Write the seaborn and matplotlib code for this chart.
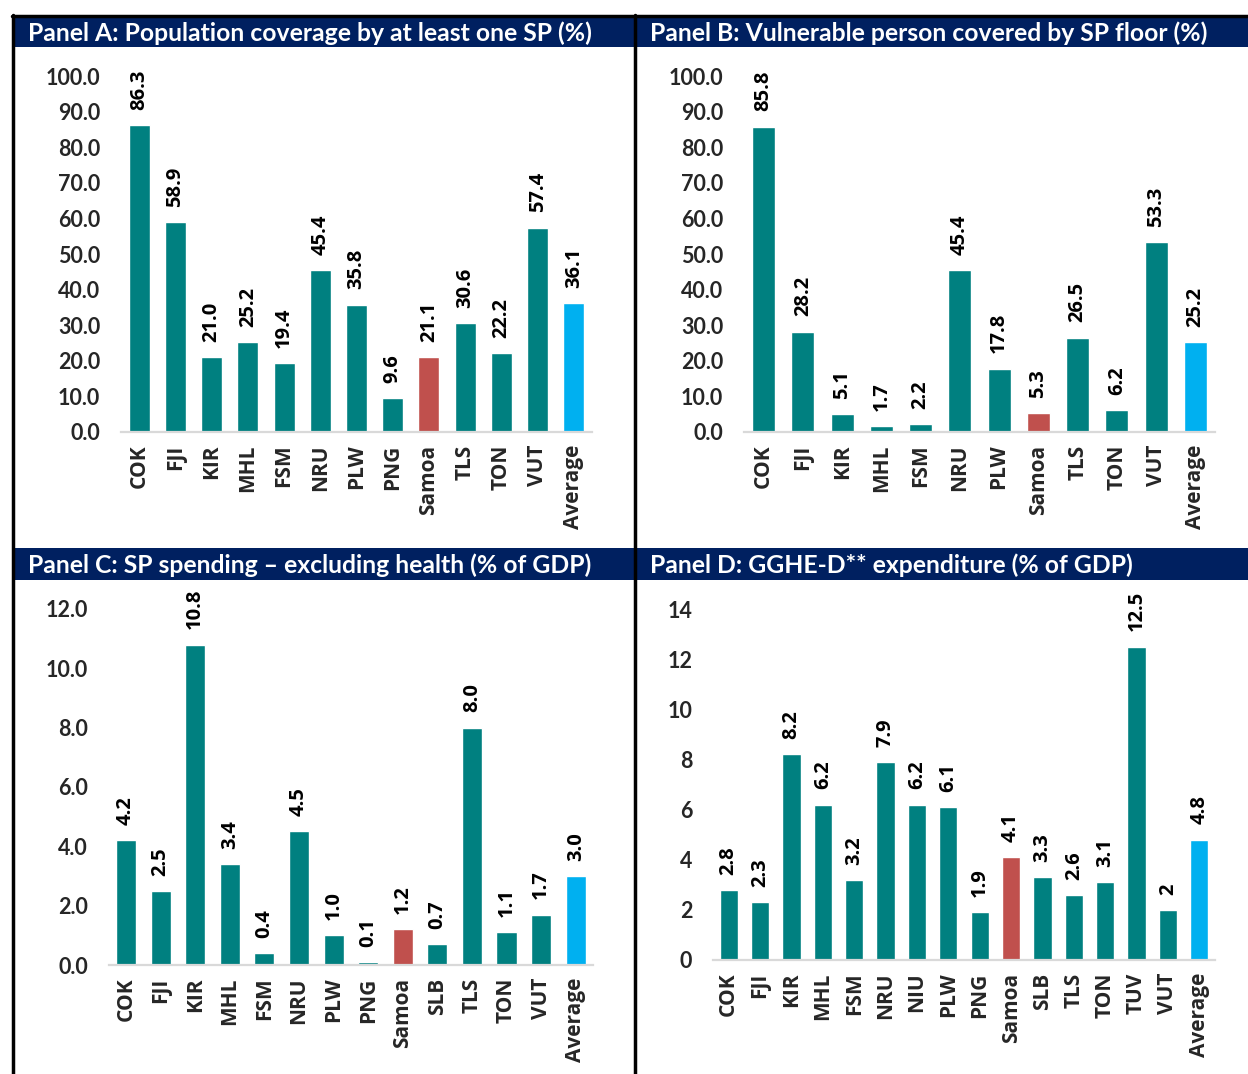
import matplotlib
matplotlib.use("Agg")
import matplotlib.pyplot as plt
from matplotlib.patches import Rectangle
from matplotlib.lines import Line2D
import pandas as pd
import seaborn as sns

# ---- data -------------------------------------------------------------
cats_a = ["COK", "FJI", "KIR", "MHL", "FSM", "NRU", "PLW", "PNG", "Samoa",
          "TLS", "TON", "VUT", "Average"]
vals_a = [86.3, 58.9, 21.0, 25.2, 19.4, 45.4, 35.8, 9.6, 21.1, 30.6, 22.2, 57.4, 36.1]

cats_b = ["COK", "FJI", "KIR", "MHL", "FSM", "NRU", "PLW", "Samoa", "TLS",
          "TON", "VUT", "Average"]
vals_b = [85.8, 28.2, 5.1, 1.7, 2.2, 45.4, 17.8, 5.3, 26.5, 6.2, 53.3, 25.2]

cats_c = ["COK", "FJI", "KIR", "MHL", "FSM", "NRU", "PLW", "PNG", "Samoa",
          "SLB", "TLS", "TON", "VUT", "Average"]
vals_c = [4.2, 2.5, 10.8, 3.4, 0.4, 4.5, 1.0, 0.1, 1.2, 0.7, 8.0, 1.1, 1.7, 3.0]

cats_d = ["COK", "FJI", "KIR", "MHL", "FSM", "NRU", "NIU", "PLW", "PNG",
          "Samoa", "SLB", "TLS", "TON", "TUV", "VUT", "Average"]
vals_d = [2.8, 2.3, 8.2, 6.2, 3.2, 7.9, 6.2, 6.1, 1.9, 4.1, 3.3, 2.6, 3.1, 12.5, 2, 4.8]

titles = ["Panel A: Population coverage by at least one SP (%)",
          "Panel B: Vulnerable person covered by SP floor (%)",
          "Panel C: SP spending \u2013 excluding health (% of GDP)",
          "Panel D: GGHE-D** expenditure (% of GDP)"]

# ---- style ------------------------------------------------------------
TEAL = "#008080"
SAMOA = "#C0504D"
AVG = "#00B0F0"
NAVY = "#002060"

sns.set_theme(style="white")
plt.rcParams["font.family"] = ["Lato", "DejaVu Sans"]
plt.rcParams["font.weight"] = "bold"
LABEL_FONT = ["Open Sans", "DejaVu Sans"]

W, H = 1248, 1074
fig = plt.figure(figsize=(W / 100, H / 100), dpi=100)


def fx(px):
    return px / W


def fy(py):
    return 1 - py / H


def panel(cats, vals, box, ylim, yticks, ytick_fmt, label_fmt):
    x0, x1, y_top, y_bot = box
    ax = fig.add_axes([fx(x0), fy(y_bot), fx(x1) - fx(x0), (y_bot - y_top) / H])
    df = pd.DataFrame({"cat": cats, "val": vals})
    pal = {c: (SAMOA if c == "Samoa" else AVG if c == "Average" else TEAL) for c in cats}
    sns.barplot(data=df, x="cat", y="val", hue="cat", palette=pal, dodge=False,
                legend=False, width=0.58, saturation=1, ax=ax)
    ax.set_xlim(-0.5, len(cats) - 0.5)
    ax.set_ylim(*ylim)
    ax.set_yticks(yticks)
    ax.set_yticklabels([ytick_fmt.format(t) for t in yticks])
    ax.set_xlabel("")
    ax.set_ylabel("")
    for s in ["top", "right", "left"]:
        ax.spines[s].set_visible(False)
    ax.spines["bottom"].set_color("#D9D9D9")
    ax.spines["bottom"].set_linewidth(1.6)
    ax.tick_params(axis="y", length=0, pad=15, labelsize=15.5)
    ax.tick_params(axis="x", length=0, pad=9, labelsize=15, labelrotation=90)
    for lab in ax.get_yticklabels():
        lab.set_fontweight("bold")
    for lab in ax.get_xticklabels():
        lab.set_fontweight("bold")
        lab.set_fontfamily(LABEL_FONT)
    labels = [label_fmt.format(v) for v in vals]
    for cont in ax.containers:
        txt = [labels[int(round(b.get_x() + b.get_width() / 2))] for b in cont]
        ax.bar_label(cont, labels=txt, rotation=90, padding=11,
                     fontsize=14.5, fontweight="bold", family=LABEL_FONT,
                     color="black", clip_on=False)
    ax.set_facecolor("none")
    return ax


panel(cats_a, vals_a, (121, 592, 60, 432), (0, 104.5), [i * 10 for i in range(11)],
      "{:.1f}", "{:.1f}")
panel(cats_b, vals_b, (744, 1215, 60, 432), (0, 104.5), [i * 10 for i in range(11)],
      "{:.1f}", "{:.1f}")
panel(cats_c, vals_c, (108.7, 593, 595, 965), (0, 12.47), [i * 2 for i in range(7)],
      "{:.1f}", "{:.1f}")
panel(cats_d, vals_d, (713, 1215, 595, 960), (0, 14.56), [i * 2 for i in range(8)],
      "{:d}", "{:g}")

# ---- header bands and frame lines ---------------------------------------
for (xa, xb, ya, yb) in [(12, W, 17, 47), (12, W, 548, 580)]:
    fig.add_artist(Rectangle((fx(xa), fy(yb)), fx(xb) - fx(xa), (yb - ya) / H,
                             transform=fig.transFigure, facecolor=NAVY,
                             edgecolor="none", zorder=0))

for (tx, ty), t in zip([(28, 33), (650, 33), (28, 565), (650, 565)], titles):
    fig.text(fx(tx), fy(ty), t, color="white", fontsize=17.8, fontweight="bold",
             ha="left", va="center")

fig.add_artist(Line2D([fx(12), 1], [fy(15.5), fy(15.5)], color="black", lw=2.5,
                      transform=fig.transFigure))
fig.add_artist(Line2D([fx(13), fx(13)], [fy(15), 0], color="black", lw=2.5,
                      transform=fig.transFigure))
fig.add_artist(Line2D([fx(635), fx(635)], [fy(15), 0], color="black", lw=2.5,
                      transform=fig.transFigure))

fig.savefig("out.png", dpi=100)
